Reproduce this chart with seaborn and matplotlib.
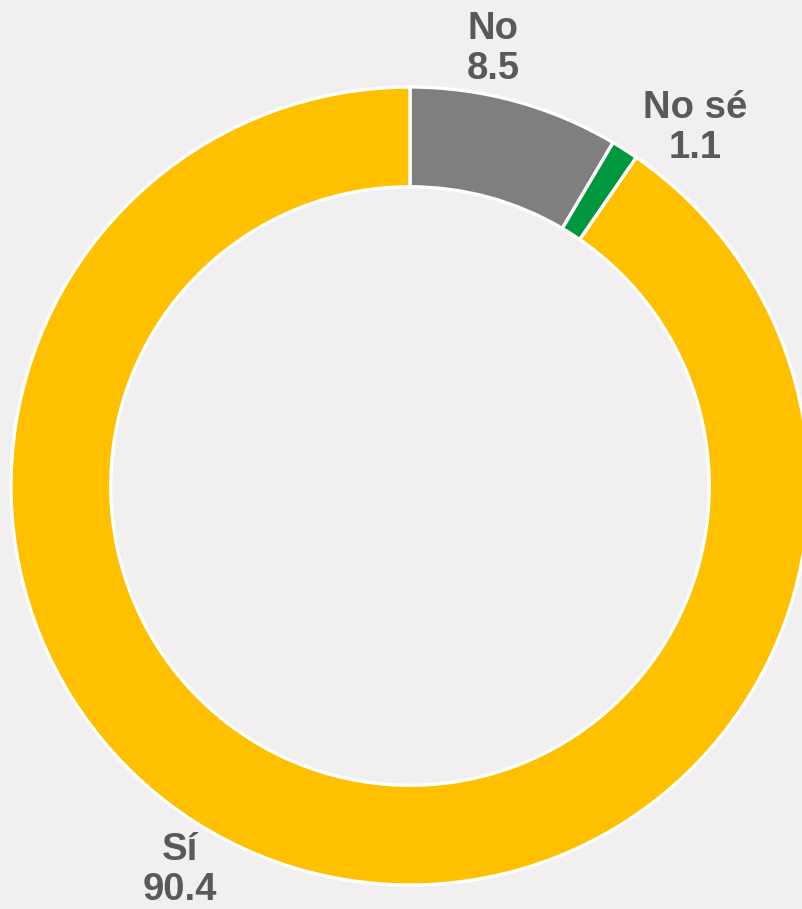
import matplotlib
matplotlib.use("Agg")
import matplotlib.pyplot as plt
import seaborn as sns

categories = ["No", "No sé", "Sí"]
values = [8.5, 1.1, 90.4]
value_labels = ["8.5", "1.1", "90.4"]
colors = ["#7F7F7F", "#00983F", "#FFC000"]

bg = "#F1EFF0"
sns.set_theme(style="white")
plt.rcParams['font.family'] = ['Liberation Sans', 'DejaVu Sans']

W, H = 802, 909
fig = plt.figure(figsize=(W / 100, H / 100), dpi=100, facecolor=bg)
ax = fig.add_axes([0, 0, 1, 1])
ax.set_facecolor(bg)

ax.pie(values, colors=colors, startangle=90, counterclock=False, radius=1.0,
       wedgeprops=dict(width=0.25, edgecolor="white", linewidth=2.4))

cx, cy, R = 410, 486, 399  # pixel centre / radius
ax.set_xlim(-cx / R, (W - cx) / R)
ax.set_ylim(-(H - cy) / R, cy / R)
ax.set_aspect("equal")
ax.axis("off")

def px(x, y):
    return (x - cx) / R, (cy - y) / R

label_px = [(493, 49), (695, 128), (180, 870)]
for cat, val, (lx, ly) in zip(categories, value_labels, label_px):
    x, y = px(lx, ly)
    ax.text(x, y, f"{cat}\n{val}", ha="center", va="center", fontsize=27.5,
            fontweight="bold", color="#595959", linespacing=1.15)

fig.savefig("out.png", dpi=100, facecolor=bg)
